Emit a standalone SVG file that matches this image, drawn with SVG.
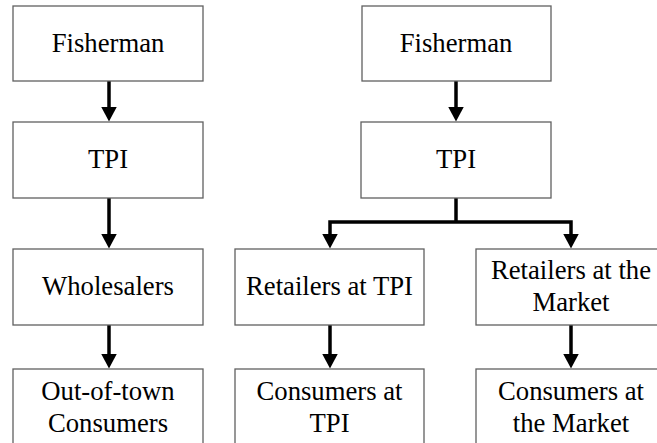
<svg xmlns="http://www.w3.org/2000/svg" width="657" height="443" viewBox="0 0 657 443">
<defs>
<marker id="ah" markerUnits="userSpaceOnUse" markerWidth="15" markerHeight="16" viewBox="0 -8 15 16" refX="0.5" refY="0" orient="auto">
<path d="M0,-8 L15,0 L0,8 z" fill="#000"/>
</marker>
</defs>
<rect width="657" height="443" fill="#fff"/>
<g id="connectors" fill="none" stroke="#000" stroke-width="3.5">
<path d="M109,81 V107" marker-end="url(#ah)"/>
<path d="M109,198 V234" marker-end="url(#ah)"/>
<path d="M109,325 V354" marker-end="url(#ah)"/>
<path d="M456,81 V107" marker-end="url(#ah)"/>
<path d="M456,198 V222"/>
<path d="M456,222 H330 V234" marker-end="url(#ah)"/>
<path d="M456,222 H571 V234" marker-end="url(#ah)"/>
<path d="M330,325 V354" marker-end="url(#ah)"/>
<path d="M571,325 V354" marker-end="url(#ah)"/>
</g>
<g id="nodes" font-family="Liberation Serif" font-size="26.7" text-anchor="middle">
<g id="fisherman1"><rect x="13" y="6" width="190" height="75" fill="#fff" stroke="#606060" stroke-width="1.3"/><text x="108" y="52">Fisherman</text></g>
<g id="tpi1"><rect x="13" y="122" width="190" height="76" fill="#fff" stroke="#606060" stroke-width="1.3"/><text x="108" y="168">TPI</text></g>
<g id="wholesalers"><rect x="13" y="249" width="190" height="76" fill="#fff" stroke="#606060" stroke-width="1.3"/><text x="108" y="295">Wholesalers</text></g>
<g id="outoftown"><rect x="13" y="369" width="190" height="80" fill="#fff" stroke="#606060" stroke-width="1.3"/><text x="108" y="400">Out-of-town</text><text x="108" y="432">Consumers</text></g>
<g id="fisherman2"><rect x="362" y="6" width="189" height="75" fill="#fff" stroke="#606060" stroke-width="1.3"/><text x="456" y="52">Fisherman</text></g>
<g id="tpi2"><rect x="361" y="122" width="190" height="76" fill="#fff" stroke="#606060" stroke-width="1.3"/><text x="456" y="168">TPI</text></g>
<g id="retailersTPI"><rect x="235" y="249" width="189" height="76" fill="#fff" stroke="#606060" stroke-width="1.3"/><text x="329.5" y="295">Retailers at TPI</text></g>
<g id="consumersTPI"><rect x="235" y="369" width="189" height="80" fill="#fff" stroke="#606060" stroke-width="1.3"/><text x="329.5" y="400">Consumers at</text><text x="329.5" y="432">TPI</text></g>
<g id="retailersMarket"><rect x="476" y="249" width="190" height="76" fill="#fff" stroke="#606060" stroke-width="1.3"/><text x="571" y="279">Retailers at the</text><text x="571" y="311">Market</text></g>
<g id="consumersMarket"><rect x="476" y="369" width="190" height="80" fill="#fff" stroke="#606060" stroke-width="1.3"/><text x="571" y="400">Consumers at</text><text x="571" y="432">the Market</text></g>
</g>
</svg>
